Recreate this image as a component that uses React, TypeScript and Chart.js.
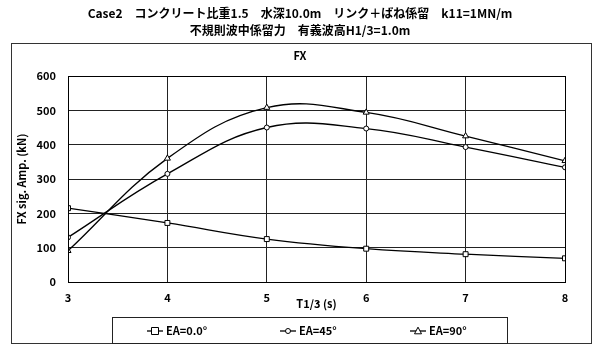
import React, { useEffect, useRef } from "react";
import { Chart, registerables } from "chart.js";

Chart.register(...registerables);

const periods = [3, 4, 5, 6, 7, 8];
const ea0 = [215, 172, 125, 97, 81, 69];
const ea45 = [130, 315, 450, 447, 393, 334];
const ea90 = [91, 360, 508, 494, 425, 353];
const seriesLabels = ["EA=0.0°", "EA=45°", "EA=90°"];
const titleLines = [
  "Case2　コンクリート比重1.5　水深10.0m　リンク＋ばね係留　k11=1MN/m",
  "不規則波中係留力　有義波高H1/3=1.0m",
];
const subTitle = "FX";
const yTitle = "FX sig. Amp. (kN)";
const xTitle = "T1/3 (s)";

const FONT = "'Noto Sans CJK JP', 'Liberation Sans', sans-serif";

function drawMarker(ctx: CanvasRenderingContext2D, style: string, x: number, y: number, r: number) {
  ctx.save();
  ctx.fillStyle = "#fff";
  ctx.strokeStyle = "#000";
  ctx.lineWidth = 1;
  ctx.beginPath();
  if (style === "rect") {
    ctx.rect(x - r, y - r, 2 * r, 2 * r);
  } else if (style === "triangle") {
    ctx.moveTo(x, y - r * 1.1);
    ctx.lineTo(x + r, y + r * 0.8);
    ctx.lineTo(x - r, y + r * 0.8);
    ctx.closePath();
  } else {
    ctx.arc(x, y, r, 0, Math.PI * 2);
  }
  ctx.fill();
  ctx.stroke();
  ctx.restore();
}

const framePlugin = {
  id: "frameAndLegend",
  afterDraw(chart: any) {
    const ctx: CanvasRenderingContext2D = chart.ctx;
    ctx.save();
    ctx.strokeStyle = "#333";
    ctx.lineWidth = 1;
    ctx.strokeRect(11.5, 43.5, 580, 300);
    // legend box
    ctx.strokeStyle = "#222";
    ctx.strokeRect(112.5, 317.5, 395, 26);
    const itemX = [147, 280, 410];
    const ly = 331;
    chart.data.datasets.forEach((ds: any, i: number) => {
      const x0 = itemX[i];
      ctx.strokeStyle = "#000";
      ctx.lineWidth = 1.3;
      ctx.beginPath();
      ctx.moveTo(x0, ly);
      ctx.lineTo(x0 + 16, ly);
      ctx.stroke();
      drawMarker(ctx, ds.pointStyle, x0 + 8, ly, ds.pointRadius);
      ctx.fillStyle = "#000";
      ctx.font = `bold 11px ${FONT}`;
      ctx.textAlign = "left";
      ctx.textBaseline = "middle";
      ctx.fillText(ds.label, x0 + 19, ly);
    });
    ctx.restore();
  },
};

export default function App() {
  const ref = useRef<HTMLCanvasElement | null>(null);
  useEffect(() => {
    if (!ref.current) return;
    const mk = (label: string, data: number[], style: string, r: number) => ({
      label,
      data,
      borderColor: "#000",
      borderWidth: 1.3,
      backgroundColor: "#fff",
      pointStyle: style,
      pointRadius: r,
      pointBackgroundColor: "#fff",
      pointBorderColor: "#000",
      pointBorderWidth: 1,
      tension: 0.4,
      fill: false,
    });
    const chart = new Chart(ref.current, {
      type: "line",
      data: {
        labels: periods,
        datasets: [
          mk(seriesLabels[0], ea0, "rect", 3.5),
          mk(seriesLabels[1], ea45, "circle", 2.5),
          mk(seriesLabels[2], ea90, "triangle", 3.5),
        ],
      },
      options: {
        animation: false,
        responsive: false,
        maintainAspectRatio: false,
        layout: { padding: { left: 0, right: 0, top: 0, bottom: 42 } },
        plugins: {
          legend: { display: false },
          tooltip: { enabled: false },
          title: {
            display: true,
            text: titleLines,
            color: "#000",
            font: { family: FONT, size: 12, weight: "bold", lineHeight: "17px" },
            padding: { top: 5, bottom: 4 },
          },
          subtitle: {
            display: true,
            text: subTitle,
            color: "#000",
            font: { family: FONT, size: 11, weight: "bold", lineHeight: "14px" },
            padding: { top: 6, bottom: 13 },
          },
        },
        scales: {
          x: {
            type: "linear",
            min: 3,
            max: 8,
            afterFit: (s: any) => {
              s.height = 30;
            },
            ticks: {
              stepSize: 1,
              color: "#000",
              padding: 9,
              font: { family: FONT, size: 11, weight: "bold" },
            },
            grid: { color: "#222", lineWidth: 1, drawTicks: false },
            border: { color: "#000", width: 1 },
            title: {
              display: true,
              text: xTitle,
              color: "#000",
              font: { family: FONT, size: 11, weight: "bold", lineHeight: "14px" },
              padding: { top: 0, bottom: 1 },
            },
          },
          y: {
            min: 0,
            max: 600,
            afterFit: (s: any) => {
              s.width = 68;
            },
            ticks: {
              stepSize: 100,
              color: "#000",
              padding: 12,
              font: { family: FONT, size: 11, weight: "bold" },
            },
            grid: { color: "#222", lineWidth: 1, drawTicks: false },
            border: { color: "#000", width: 1 },
            title: {
              display: true,
              text: yTitle,
              color: "#000",
              font: { family: FONT, size: 11, weight: "bold", lineHeight: "14px" },
              padding: { top: 15, bottom: 0 },
            },
          },
          yRight: {
            display: true,
            position: "right",
            min: 0,
            max: 600,
            afterFit: (s: any) => {
              s.width = 35;
            },
            ticks: { display: false },
            grid: { display: false, drawTicks: false },
            border: { display: false },
          },
        },
      },
      plugins: [
        framePlugin,
        {
          id: "plotBorder",
          afterDatasetsDraw(c: any) {
            const a = c.chartArea;
            const ctx = c.ctx;
            ctx.save();
            ctx.strokeStyle = "#000";
            ctx.lineWidth = 1;
            ctx.strokeRect(Math.round(a.left) + 0.5, Math.round(a.top) + 0.5, Math.round(a.right - a.left), Math.round(a.bottom - a.top));
            ctx.restore();
          },
        },
      ],
    } as any);
    return () => chart.destroy();
  }, []);
  return (
    <div style={{ position: "fixed", left: 0, top: 0, width: 600, height: 354, background: "#fff" }}>
      <canvas ref={ref} width={600} height={354} />
    </div>
  );
}
